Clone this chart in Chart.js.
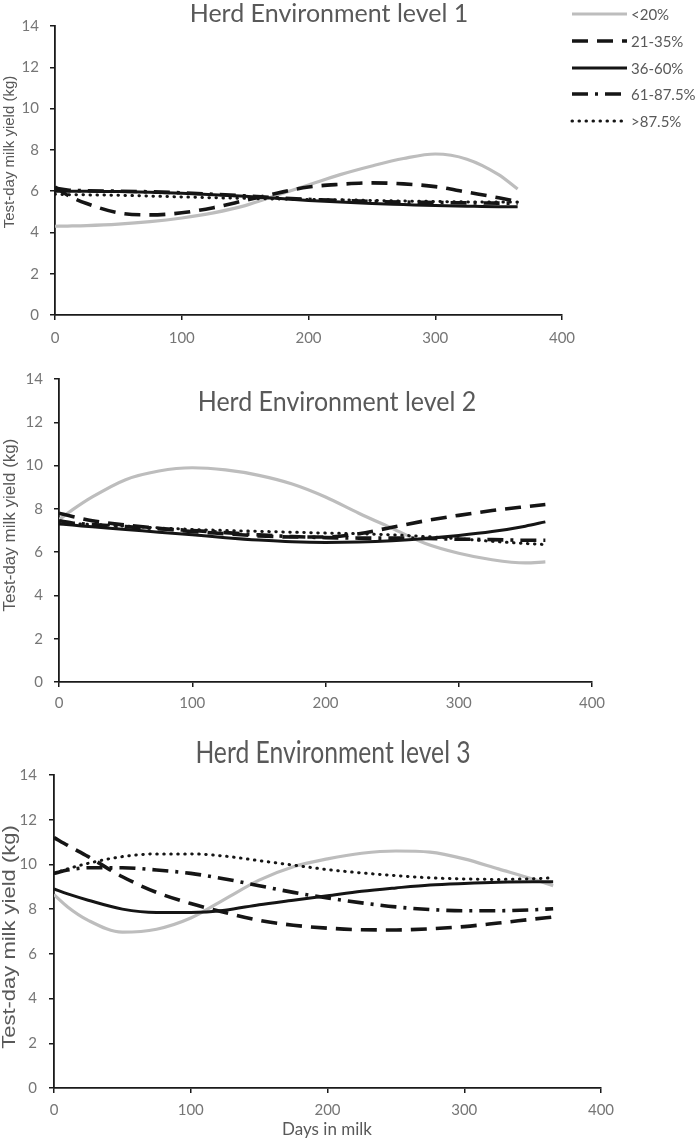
<!DOCTYPE html>
<html><head><meta charset="utf-8">
<script src="https://cdn.jsdelivr.net/npm/chart.js@4.4.1/dist/chart.umd.min.js"></script>
<style>
html,body{margin:0;padding:0;background:#fff;width:700px;height:1141px;overflow:hidden;}
canvas{position:absolute;left:0;}
</style></head><body>
<canvas id="c1" width="700" height="358" style="top:0px"></canvas>
<canvas id="c2" width="700" height="362" style="top:358px"></canvas>
<canvas id="c3" width="700" height="421" style="top:720px"></canvas>
<script>
// ---------- data ----------
const days = [0,10,25,50,75,100,125,150,175,200,225,250,275,300,325,350,365];
const seriesLabels = ['<20%','21-35%','36-60%','61-87.5%','>87.5%'];
const xTicks = [0,100,200,300,400];
const yTicks = [0,2,4,6,8,10,12,14];
const panelTitles = ['Herd Environment level 1','Herd Environment level 2','Herd Environment level 3'];
const yAxisTitle = 'Test-day milk yield (kg)';
const xAxisTitle = 'Days in milk';

// Herd Environment level 1
const l1_below20  = [4.30,4.31,4.33,4.40,4.52,4.70,4.95,5.30,5.80,6.30,6.80,7.22,7.58,7.80,7.55,6.80,6.10];
const l1_21_35    = [6.20,5.80,5.40,4.95,4.85,4.95,5.20,5.55,5.90,6.20,6.33,6.40,6.35,6.22,5.95,5.68,5.50];
const l1_36_60    = [6.00,6.00,5.99,5.98,5.95,5.90,5.83,5.75,5.65,5.55,5.47,5.40,5.35,5.30,5.27,5.25,5.25];
const l1_61_875   = [6.15,6.05,6.02,6.00,5.97,5.92,5.85,5.77,5.68,5.60,5.55,5.50,5.47,5.45,5.43,5.42,5.42];
const l1_above875 = [5.85,5.83,5.82,5.80,5.76,5.72,5.68,5.65,5.62,5.60,5.58,5.55,5.52,5.50,5.48,5.47,5.47];

// Herd Environment level 2
const l2_below20  = [7.50,7.95,8.55,9.35,9.75,9.90,9.80,9.55,9.15,8.55,7.80,7.10,6.40,5.95,5.65,5.50,5.55];
const l2_21_35    = [7.80,7.65,7.45,7.25,7.10,6.95,6.85,6.75,6.70,6.70,6.85,7.15,7.45,7.70,7.92,8.10,8.20];
const l2_36_60    = [7.30,7.25,7.17,7.05,6.92,6.80,6.67,6.56,6.48,6.45,6.47,6.53,6.63,6.77,6.95,7.20,7.40];
const l2_61_875   = [7.45,7.35,7.28,7.18,7.08,7.00,6.90,6.80,6.72,6.67,6.65,6.65,6.63,6.60,6.58,6.55,6.55];
const l2_above875 = [7.35,7.32,7.28,7.20,7.12,7.05,7.00,6.96,6.92,6.88,6.85,6.80,6.72,6.62,6.50,6.40,6.35];

// Herd Environment level 3
const l3_below20  = [8.65,8.10,7.50,6.97,7.10,7.60,8.45,9.30,9.90,10.25,10.50,10.60,10.55,10.25,9.80,9.35,9.05];
const l3_21_35    = [11.20,10.85,10.35,9.45,8.75,8.25,7.85,7.50,7.28,7.15,7.08,7.07,7.12,7.22,7.38,7.55,7.65];
const l3_36_60    = [8.90,8.68,8.40,8.00,7.85,7.85,7.95,8.20,8.40,8.60,8.80,8.95,9.08,9.15,9.20,9.22,9.22];
const l3_61_875   = [9.60,9.75,9.85,9.85,9.75,9.60,9.35,9.05,8.75,8.50,8.28,8.10,7.98,7.93,7.93,7.97,8.02];
const l3_above875 = [9.60,9.80,10.05,10.35,10.47,10.47,10.37,10.17,9.97,9.77,9.62,9.50,9.40,9.35,9.33,9.36,9.40];

// ---------- styles ----------
const lineStyles = [
  {borderColor:'#bdbdbd', borderWidth:3.2, borderDash:[], borderCapStyle:'butt'},
  {borderColor:'#151515', borderWidth:3.6, borderDash:[16,9], borderCapStyle:'butt'},
  {borderColor:'#151515', borderWidth:3.0, borderDash:[], borderCapStyle:'butt'},
  {borderColor:'#151515', borderWidth:3.6, borderDash:[16,7,3,7], borderCapStyle:'butt'},
  {borderColor:'#151515', borderWidth:3.0, borderDash:[0.5,6.5], borderCapStyle:'round'}
];

function makeDatasets(seriesList){
  return seriesList.map((vals,i)=>Object.assign({
    label: seriesLabels[i],
    data: days.map((d,k)=>({x:d, y:vals[k]})),
    pointRadius:0, fill:false, cubicInterpolationMode:'monotone',
    order: i===0 ? 10 : 5-i
  }, lineStyles[i]));
}

const panelText = {
  id:'panelText',
  afterDraw(chart, args, o){
    const ctx = chart.ctx;
    ctx.save();
    ctx.fillStyle = '#595959';
    ctx.textAlign = 'center'; ctx.textBaseline = 'middle';
    ctx.save();
    ctx.translate(o.titleX, o.titleY);
    ctx.scale(o.titleSX || 1, o.titleSY || 1);
    ctx.font = o.titleFont;
    ctx.fillText(o.title, 0, 0);
    ctx.restore();
    if (o.xTitle){
      ctx.font = o.xTitleFont;
      ctx.fillText(o.xTitle, o.xTitleX, o.xTitleY);
    }
    ctx.save();
    ctx.translate(o.yTitleX, o.yTitleY);
    ctx.rotate(-Math.PI/2);
    ctx.scale(1, o.yTitleSquash || 1);
    ctx.font = o.yTitleFont;
    ctx.fillText(yAxisTitle, 0, 0);
    ctx.restore();
    if (o.legend){
      const L = o.legend;
      chart.data.datasets.forEach((ds,i)=>{
        const y = L.ys[i];
        ctx.save();
        ctx.strokeStyle = ds.borderColor;
        ctx.lineWidth = ds.borderWidth;
        ctx.lineCap = ds.borderCapStyle || 'butt';
        ctx.setLineDash(ds.borderDash || []);
        ctx.beginPath(); ctx.moveTo(L.x1, y); ctx.lineTo(L.x2, y); ctx.stroke();
        ctx.restore();
        ctx.font = L.font; ctx.textAlign='left'; ctx.fillStyle='#595959';
        ctx.fillText(ds.label, L.textX, y+1);
      });
    }
    ctx.restore();
  }
};

function makeChart(id, seriesList, geo, textOpts){
  const tickFont = {family:'Lato', size:15};
  return new Chart(document.getElementById(id), {
    type:'line',
    data:{datasets: makeDatasets(seriesList)},
    options:{
      responsive:false, animation:false, devicePixelRatio:1,
      layout:{padding:{left:0, top:geo.top, right:geo.right, bottom:0}},
      plugins:{legend:{display:false}, tooltip:{enabled:false}, title:{display:false}, panelText:textOpts},
      scales:{
        x:{type:'linear', min:0, max:400,
           afterBuildTicks:s=>{s.ticks = xTicks.map(v=>({value:v}));},
           afterFit:s=>{s.height = geo.xh;},
           ticks:{font:tickFont, color:'#767676', padding:geo.xpad, maxRotation:0, autoSkip:false},
           grid:{drawOnChartArea:false, drawTicks:true, tickLength:5, color:'#1a1a1a', lineWidth:1.5},
           border:{display:true, color:'#1a1a1a', width:1.8}},
        y:{type:'linear', min:0, max:14,
           afterBuildTicks:s=>{s.ticks = yTicks.map(v=>({value:v}));},
           afterFit:s=>{s.width = geo.left;},
           ticks:{font:tickFont, color:'#767676', padding:geo.ypad},
           grid:{drawOnChartArea:false, drawTicks:true, tickLength:5, color:'#1a1a1a', lineWidth:1.5},
           border:{display:true, color:'#1a1a1a', width:1.8}}
      }
    },
    plugins:[panelText]
  });
}

makeChart('c1', [l1_below20,l1_21_35,l1_36_60,l1_61_875,l1_above875],
  {top:26, right:700-562, left:55, xh:358-315, xpad:9, ypad:11},
  {title:panelTitles[0], titleX:329, titleY:14, titleFont:'25px Lato',
   yTitleX:10, yTitleY:152, yTitleFont:'15px "Liberation Sans"',
   legend:{x1:572, x2:627, textX:631, ys:[14,41,68,94,121], font:'15px Lato'}});

makeChart('c2', [l2_below20,l2_21_35,l2_36_60,l2_61_875,l2_above875],
  {top:379-358, right:700-592, left:59, xh:362-(682-358), xpad:7, ypad:11},
  {title:panelTitles[1], titleX:337, titleY:402-358, titleFont:'25px Lato', titleSX:1, titleSY:1.1,
   yTitleX:10, yTitleY:525-358, yTitleFont:'17px "Liberation Sans"'});

makeChart('c3', [l3_below20,l3_21_35,l3_36_60,l3_61_875,l3_above875],
  {top:775-720, right:700-601, left:54, xh:421-(1088-720), xpad:8, ypad:12},
  {title:panelTitles[2], titleX:333, titleY:753-720, titleFont:'26px Lato', titleSX:0.95, titleSY:1.15,
   yTitleX:10, yTitleY:937-720, yTitleFont:'22px "Liberation Sans"', yTitleSquash:0.8,
   xTitle:xAxisTitle, xTitleX:327, xTitleY:1130-720, xTitleFont:'17px Lato'});
</script>
</body></html>
